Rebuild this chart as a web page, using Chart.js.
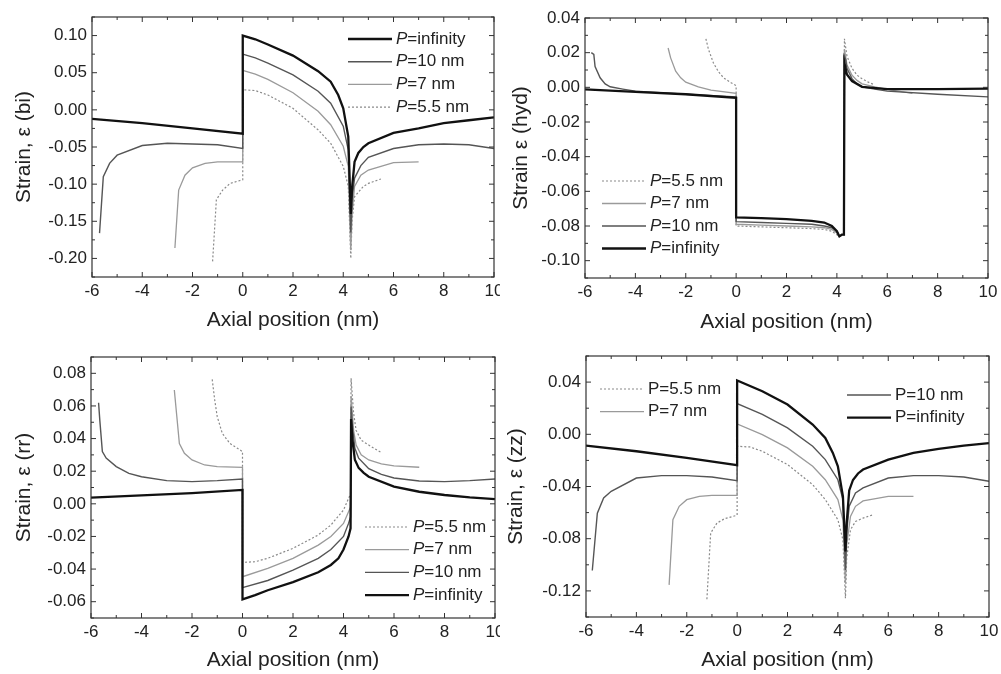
<!DOCTYPE html>
<html>
<head>
<meta charset="utf-8">
<script src="https://cdn.jsdelivr.net/npm/chart.js@4.4.0/dist/chart.umd.min.js"></script>
<style>
  body { margin: 0; background: #fff; }
  canvas { position: absolute; }
</style>
</head>
<body>
<canvas id="bi" width="500" height="337" style="left:0;top:0"></canvas>
<canvas id="hyd" width="501" height="337" style="left:500px;top:0"></canvas>
<canvas id="rr" width="500" height="337" style="left:0;top:337px"></canvas>
<canvas id="zz" width="501" height="337" style="left:500px;top:337px"></canvas>
<script>
// ---------- data (axial position in nm, strain) ----------
const seriesNames = ['infinity', '10 nm', '7 nm', '5.5 nm']
const xTicks = [-6, -4, -2, 0, 2, 4, 6, 8, 10]

// bi
const biTicks = [-0.20, -0.15, -0.10, -0.05, 0.00, 0.05, 0.10]
const biInfX = [-6, -4, -2, 0, 0, 0.5, 1, 2, 3, 3.5, 3.8, 4, 4.2, 4.3, 4.35, 4.45, 4.6, 4.8, 5, 6, 7, 8, 9, 10]
const biInfY = [-0.012, -0.018, -0.025, -0.032, 0.100, 0.095, 0.088, 0.073, 0.052, 0.038, 0.020, 0.002, -0.036, -0.140, -0.105, -0.070, -0.058, -0.050, -0.045, -0.031, -0.025, -0.018, -0.014, -0.010]
const biP10X = [-5.7, -5.55, -5.3, -5, -4, -3, -2, -1, 0, 0, 0.5, 1, 2, 3, 3.5, 4, 4.2, 4.3, 4.35, 4.45, 4.7, 5, 6, 7, 8, 9, 10]
const biP10Y = [-0.166, -0.090, -0.072, -0.061, -0.048, -0.045, -0.046, -0.047, -0.052, 0.075, 0.070, 0.063, 0.047, 0.025, 0.009, -0.022, -0.054, -0.165, -0.120, -0.092, -0.075, -0.064, -0.052, -0.047, -0.046, -0.047, -0.052]
const biP7X = [-2.7, -2.55, -2.3, -2, -1.5, -1, 0, 0, 0.5, 1, 2, 3, 3.5, 4, 4.2, 4.3, 4.35, 4.45, 4.7, 5, 6, 7]
const biP7Y = [-0.186, -0.108, -0.088, -0.078, -0.072, -0.070, -0.070, 0.053, 0.048, 0.041, 0.023, -0.002, -0.020, -0.049, -0.076, -0.189, -0.140, -0.103, -0.088, -0.081, -0.071, -0.070]
const biP55X = [-1.2, -1.05, -0.8, -0.5, 0, 0, 0.5, 1, 2, 3, 3.5, 4, 4.2, 4.3, 4.35, 4.45, 4.8, 5, 5.5]
const biP55Y = [-0.204, -0.121, -0.108, -0.099, -0.094, 0.027, 0.026, 0.020, 0.002, -0.027, -0.045, -0.076, -0.103, -0.200, -0.150, -0.117, -0.103, -0.099, -0.093]

// hyd
const hydTicks = [-0.10, -0.08, -0.06, -0.04, -0.02, 0.00, 0.02, 0.04]
const hydInfX = [-6, -4, -2, 0, 0, 1, 2, 3, 3.5, 3.8, 4, 4.1, 4.2, 4.28, 4.3, 4.4, 4.6, 5, 6, 8, 10]
const hydInfY = [-0.0012, -0.0026, -0.004, -0.006, -0.075, -0.0755, -0.076, -0.077, -0.078, -0.080, -0.083, -0.086, -0.085, -0.085, 0.014, 0.0074, 0.0036, 0.0003, -0.001, -0.001, -0.0007]
const hydP10X = [-5.75, -5.65, -5.6, -5.4, -5.2, -5, -4.5, -4, -2, 0, 0, 1, 2, 3, 3.5, 3.8, 4, 4.1, 4.2, 4.28, 4.3, 4.35, 4.4, 4.6, 4.8, 5, 5.5, 6, 8, 10]
const hydP10Y = [0.020, 0.019, 0.012, 0.0055, 0.002, 0.0003, -0.001, -0.0022, -0.004, -0.0055, -0.0775, -0.078, -0.0785, -0.079, -0.080, -0.081, -0.083, -0.086, -0.085, -0.085, 0.018, 0.016, 0.011, 0.005, 0.002, 0.0003, -0.001, -0.0022, -0.004, -0.0055]
const hydP7X = [-2.7, -2.6, -2.4, -2.2, -2, -1.5, -1, 0, 0, 1, 2, 3, 3.5, 3.8, 4, 4.1, 4.2, 4.28, 4.3, 4.4, 4.6, 4.8, 5, 5.5, 6, 7]
const hydP7Y = [0.0227, 0.017, 0.0093, 0.0055, 0.003, 0.0003, -0.0016, -0.0035, -0.079, -0.0795, -0.080, -0.0805, -0.081, -0.082, -0.084, -0.086, -0.085, -0.085, 0.022, 0.013, 0.007, 0.004, 0.002, 0.0003, -0.0012, -0.0035]
const hydP55X = [-1.2, -1.1, -0.9, -0.7, -0.5, -0.2, 0, 0, 1, 2, 3, 3.5, 3.8, 4, 4.1, 4.2, 4.28, 4.3, 4.4, 4.6, 4.8, 5, 5.3, 5.5]
const hydP55Y = [0.028, 0.022, 0.014, 0.009, 0.0055, 0.0026, 0.001, -0.080, -0.0805, -0.081, -0.0815, -0.082, -0.083, -0.085, -0.086, -0.0855, -0.085, 0.028, 0.018, 0.011, 0.007, 0.005, 0.0026, 0.0015]

// rr
const rrTicks = [-0.06, -0.04, -0.02, 0.00, 0.02, 0.04, 0.06, 0.08]
const rrInfX = [-6, -4, -2, 0, 0, 0.5, 1, 2, 3, 3.5, 3.8, 4, 4.2, 4.28, 4.3, 4.35, 4.45, 4.6, 4.8, 5, 6, 7, 8, 9, 10]
const rrInfY = [0.0038, 0.0052, 0.0066, 0.0085, -0.0586, -0.056, -0.053, -0.048, -0.042, -0.0375, -0.0334, -0.028, -0.020, -0.015, 0.052, 0.040, 0.027, 0.022, 0.019, 0.0166, 0.0105, 0.0074, 0.0054, 0.0039, 0.0029]
const rrP10X = [-5.7, -5.65, -5.55, -5.4, -5, -4.5, -4, -3, -2, -1, 0, 0, 1, 2, 3, 3.5, 4, 4.2, 4.28, 4.3, 4.35, 4.45, 4.6, 5, 5.5, 6, 7, 8, 9, 10]
const rrP10Y = [0.062, 0.051, 0.032, 0.028, 0.0228, 0.0187, 0.0166, 0.0142, 0.0136, 0.0142, 0.0152, -0.0514, -0.047, -0.0406, -0.0334, -0.028, -0.020, -0.012, -0.008, 0.0596, 0.048, 0.034, 0.028, 0.0215, 0.018, 0.0158, 0.0140, 0.0136, 0.0142, 0.0152]
const rrP7X = [-2.7, -2.6, -2.5, -2.3, -2, -1.5, -1, 0, 0, 1, 2, 3, 3.5, 4, 4.2, 4.28, 4.3, 4.4, 4.5, 4.7, 5, 5.5, 6, 7]
const rrP7Y = [0.0698, 0.0534, 0.037, 0.031, 0.0269, 0.0238, 0.0228, 0.0224, -0.0447, -0.0396, -0.0334, -0.0253, -0.020, -0.012, -0.0048, -0.002, 0.066, 0.045, 0.036, 0.030, 0.0269, 0.0245, 0.0232, 0.0224]
const rrP55X = [-1.2, -1.1, -1, -0.8, -0.5, -0.2, 0, 0, 0.5, 1, 2, 3, 3.5, 4, 4.2, 4.28, 4.3, 4.4, 4.5, 4.7, 5, 5.5]
const rrP55Y = [0.0763, 0.0636, 0.0534, 0.0432, 0.037, 0.034, 0.032, -0.0359, -0.0355, -0.0334, -0.0273, -0.0191, -0.013, -0.0038, 0.0033, 0.006, 0.077, 0.0555, 0.045, 0.039, 0.036, 0.0314]

// zz
const zzTicks = [-0.12, -0.08, -0.04, 0.00, 0.04]
const zzInfX = [-6, -4, -2, 0, 0, 1, 2, 3, 3.5, 3.8, 4, 4.2, 4.3, 4.35, 4.45, 4.6, 4.8, 5, 6, 7, 8, 9, 10]
const zzInfY = [-0.0086, -0.013, -0.018, -0.0237, 0.0413, 0.033, 0.0228, 0.0075, -0.0028, -0.0143, -0.0245, -0.0476, -0.0898, -0.068, -0.043, -0.035, -0.030, -0.027, -0.0194, -0.0143, -0.0112, -0.0086, -0.0068]
const zzP10X = [-5.75, -5.55, -5.3, -5, -4, -3, -2, -1, 0, 0, 1, 2, 3, 3.5, 4, 4.2, 4.3, 4.35, 4.45, 4.7, 5, 6, 7, 8, 9, 10]
const zzP10Y = [-0.1044, -0.0604, -0.0488, -0.0437, -0.0335, -0.0317, -0.0317, -0.0327, -0.0355, 0.0236, 0.0152, 0.0049, -0.0092, -0.0194, -0.0348, -0.050, -0.104, -0.075, -0.055, -0.045, -0.041, -0.0335, -0.0317, -0.0317, -0.0327, -0.036]
const zzP7X = [-2.7, -2.55, -2.3, -2, -1.5, -1, 0, 0, 1, 2, 3, 3.5, 4, 4.2, 4.3, 4.35, 4.5, 4.7, 5, 6, 7]
const zzP7Y = [-0.1154, -0.0655, -0.0552, -0.0501, -0.0476, -0.0468, -0.0468, 0.008, -0.0002, -0.0104, -0.0245, -0.0348, -0.050, -0.0655, -0.114, -0.085, -0.063, -0.0552, -0.051, -0.0476, -0.0476]
const zzP55X = [-1.2, -1.05, -0.8, -0.5, 0, 0, 0.5, 1, 2, 3, 3.5, 4, 4.2, 4.3, 4.35, 4.5, 4.7, 5, 5.4]
const zzP55Y = [-0.1264, -0.0757, -0.068, -0.0647, -0.062, -0.0092, -0.0097, -0.013, -0.0232, -0.0386, -0.050, -0.0655, -0.0808, -0.1256, -0.095, -0.0732, -0.0668, -0.0642, -0.0616]

// ---------- styles ----------
const lineStyles = [
  { color: '#111', width: 2.3, dash: [] },        // P=infinity
  { color: '#555', width: 1.4, dash: [] },        // P=10 nm
  { color: '#9a9a9a', width: 1.3, dash: [] },     // P=7 nm
  { color: '#8a8a8a', width: 1.2, dash: [2, 2] }  // P=5.5 nm
]
const FONT = "'Liberation Sans', Arial, sans-serif"

function pts(xs, ys) {
  return xs.map((x, i) => ({ x: x, y: ys[i] }))
}

// frame, inward ticks on all 4 sides, legend
const framePlugin = {
  id: 'frame',
  afterDraw(chart, args, opts) {
    const ctx = chart.ctx
    const a = chart.chartArea
    const xs = chart.scales.x, ys = chart.scales.y
    ctx.save()
    ctx.strokeStyle = '#333'
    ctx.lineWidth = 1.2
    ctx.strokeRect(a.left, a.top, a.right - a.left, a.bottom - a.top)
    ctx.lineWidth = 1
    const tickSet = (scale, major) => {
      const step = major[1] - major[0]
      const out = []
      for (let v = major[0] - step / 2; v <= scale.max + 1e-9; v += step / 2) {
        if (v < scale.min - 1e-9) continue
        const isMajor = Math.abs(((v - major[0]) / step) - Math.round((v - major[0]) / step)) < 1e-6
        out.push({ p: scale.getPixelForValue(v), len: isMajor ? 5 : 3 })
      }
      return out
    }
    ctx.beginPath()
    tickSet(xs, xTicks).forEach(t => {
      ctx.moveTo(t.p, a.bottom); ctx.lineTo(t.p, a.bottom - t.len)
      ctx.moveTo(t.p, a.top); ctx.lineTo(t.p, a.top + t.len)
    })
    tickSet(ys, opts.yTicks).forEach(t => {
      ctx.moveTo(a.left, t.p); ctx.lineTo(a.left + t.len, t.p)
      ctx.moveTo(a.right, t.p); ctx.lineTo(a.right - t.len, t.p)
    })
    ctx.stroke()

    // legend groups
    ctx.textBaseline = 'middle'
    ctx.fillStyle = '#222'
    opts.legend.forEach(g => {
      g.items.forEach((idx, k) => {
        const y = g.y + k * g.gap
        const st = lineStyles[idx]
        ctx.strokeStyle = st.color
        ctx.lineWidth = st.width
        ctx.setLineDash(st.dash)
        ctx.beginPath()
        ctx.moveTo(g.x, y); ctx.lineTo(g.x + 44, y)
        ctx.stroke()
        ctx.setLineDash([])
        let tx = g.x + 48
        ctx.font = (g.italic ? 'italic ' : '') + '17px ' + FONT
        ctx.fillText('P', tx, y)
        tx += ctx.measureText('P').width
        ctx.font = '17px ' + FONT
        ctx.fillText('=' + seriesNames[idx], tx, y)
      })
    })
    ctx.restore()
  }
}

function makePanel(id, p) {
  const ctx = document.getElementById(id).getContext('2d')
  const series = [pts(p.x[0], p.y[0]), pts(p.x[1], p.y[1]), pts(p.x[2], p.y[2]), pts(p.x[3], p.y[3])]
  return new Chart(ctx, {
    type: 'line',
    data: {
      datasets: series.map((d, i) => ({
        label: 'P=' + seriesNames[i],
        data: d,
        borderColor: lineStyles[i].color,
        borderWidth: lineStyles[i].width,
        borderDash: lineStyles[i].dash,
        pointRadius: 0,
        tension: 0,
        fill: false
      }))
    },
    options: {
      responsive: false,
      animation: false,
      layout: { padding: { top: p.area.top, right: p.area.right, left: 0, bottom: 0 } },
      plugins: {
        legend: { display: false },
        tooltip: { enabled: false },
        frame: { yTicks: p.ticks, legend: p.legend }
      },
      scales: {
        x: {
          type: 'linear', min: -6, max: 10,
          grid: { display: false, drawTicks: false },
          border: { display: false },
          afterBuildTicks: s => { s.ticks = xTicks.map(v => ({ value: v })) },
          afterFit: s => { s.height = p.area.xh; s.paddingLeft = 0; s.paddingRight = 0 },
          ticks: { color: '#222', padding: 4, maxRotation: 0, font: { family: FONT, size: 17 } },
          title: { display: true, text: 'Axial position (nm)', color: '#222',
                   font: { family: FONT, size: 21, lineHeight: 1.2 }, padding: { top: 0, bottom: p.area.xtp } }
        },
        y: {
          type: 'linear', min: p.min, max: p.max,
          grid: { display: false, drawTicks: false },
          border: { display: false },
          afterBuildTicks: s => { s.ticks = p.ticks.map(v => ({ value: v })) },
          afterFit: s => { s.width = p.area.left; s.paddingTop = 0; s.paddingBottom = 0 },
          ticks: { color: '#222', padding: 5, font: { family: FONT, size: 17 },
                   callback: v => (Math.abs(v) < 1e-9 ? 0 : v).toFixed(2) },
          title: { display: true, text: p.title, color: '#222',
                   font: { family: FONT, size: 21, lineHeight: 1.2 }, padding: { top: p.area.ytp, bottom: 0 } }
        }
      }
    },
    plugins: [framePlugin]
  })
}

const GraphBi = makePanel('bi', {
  x: [biInfX, biP10X, biP7X, biP55X], y: [biInfY, biP10Y, biP7Y, biP55Y],
  min: -0.225, max: 0.125, ticks: biTicks, title: 'Strain, \u03b5 (bi)',
  area: { left: 92, right: 6, top: 17, xh: 60, xtp: 4, ytp: 12 },
  legend: [{ x: 348, y: 39, gap: 22.7, italic: true, items: [0, 1, 2, 3] }]
})
const GraphHyd = makePanel('hyd', {
  x: [hydInfX, hydP10X, hydP7X, hydP55X], y: [hydInfY, hydP10Y, hydP7Y, hydP55Y],
  min: -0.11, max: 0.04, ticks: hydTicks, title: 'Strain \u03b5 (hyd)',
  area: { left: 85, right: 13, top: 18, xh: 59, xtp: 2, ytp: 9 },
  legend: [{ x: 102, y: 181, gap: 22.5, italic: true, items: [3, 2, 1, 0] }]
})
const GraphRr = makePanel('rr', {
  x: [rrInfX, rrP10X, rrP7X, rrP55X], y: [rrInfY, rrP10Y, rrP7Y, rrP55Y],
  min: -0.07, max: 0.09, ticks: rrTicks, title: 'Strain, \u03b5 (rr)',
  area: { left: 91, right: 5, top: 20, xh: 56, xtp: 1, ytp: 12 },
  legend: [{ x: 365, y: 190, gap: 22.7, italic: true, items: [3, 2, 1, 0] }]
})
const GraphZz = makePanel('zz', {
  x: [zzInfX, zzP10X, zzP7X, zzP55X], y: [zzInfY, zzP10Y, zzP7Y, zzP55Y],
  min: -0.14, max: 0.06, ticks: zzTicks, title: 'Strain, \u03b5 (zz)',
  area: { left: 86, right: 12, top: 19, xh: 57, xtp: 1, ytp: 4 },
  legend: [
    { x: 100, y: 52, gap: 22.7, italic: false, items: [3, 2] },
    { x: 347, y: 58, gap: 22.7, italic: false, items: [1, 0] }
  ]
})
</script>
</body>
</html>
